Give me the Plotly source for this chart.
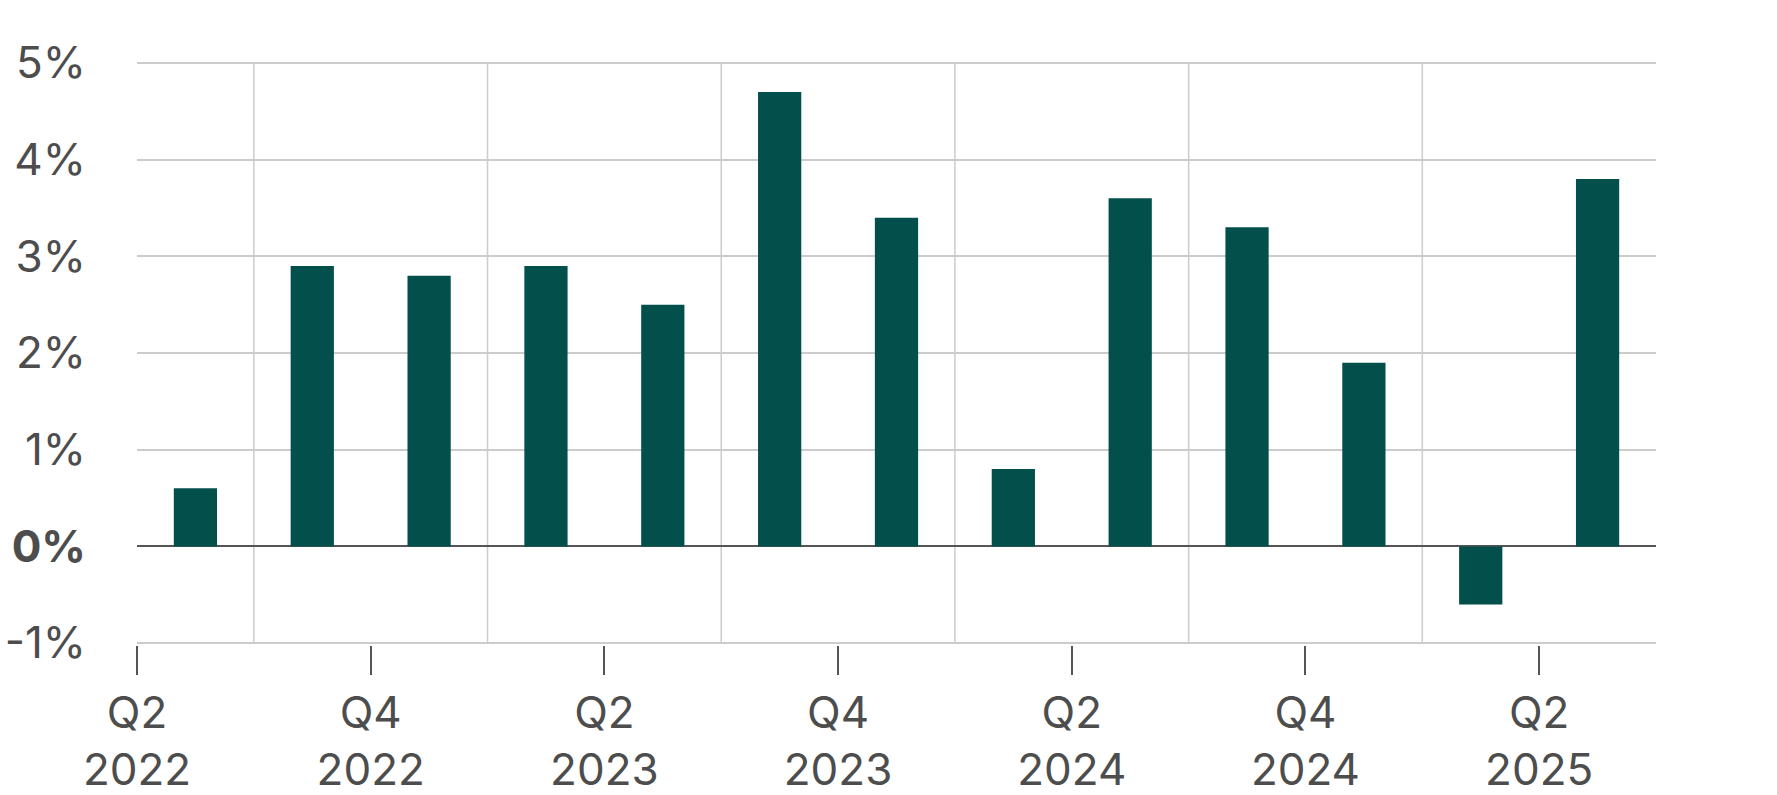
import plotly.graph_objects as go

quarters = ["Q2 2022", "Q3 2022", "Q4 2022", "Q1 2023", "Q2 2023", "Q3 2023", "Q4 2023",
            "Q1 2024", "Q2 2024", "Q3 2024", "Q4 2024", "Q1 2025", "Q2 2025"]
growth = [0.6, 2.9, 2.8, 2.9, 2.5, 4.7, 3.4, 0.8, 3.6, 3.3, 1.9, -0.6, 3.8]
y_ticks = [-1, 0, 1, 2, 3, 4, 5]
y_labels = ["-1%", "<b>0%</b>", "1%", "2%", "3%", "4%", "5%"]

idx = list(range(len(quarters)))
# labelled ticks at start of Q2 / Q4 quarters, gridlines at start of Q1 / Q3 quarters
tick_pos = [i - 0.5 for i, q in zip(idx, quarters) if q[:2] in ("Q2", "Q4")]
tick_txt = [q.replace(" ", "<br>") for q in quarters if q[:2] in ("Q2", "Q4")]
grid_pos = [i - 0.5 for i, q in zip(idx, quarters) if q[:2] in ("Q1", "Q3")]

font_color = "#4d4d4d"
FONT = "Inter"
fig = go.Figure(go.Bar(x=idx, y=growth, width=0.37, marker=dict(color="#034f4b", line=dict(width=0)),
                       showlegend=False))

for gx in grid_pos:
    fig.add_shape(type="line", xref="x", yref="y", x0=gx, x1=gx, y0=min(y_ticks), y1=max(y_ticks),
                  line=dict(color="#cccccc", width=1.5), layer="below")

fig.update_layout(
    width=1777, height=795,
    margin=dict(l=137, r=121, t=61, b=150),
    plot_bgcolor="white", paper_bgcolor="white",
    font=dict(family=FONT, size=44, color=font_color),
    xaxis=dict(
        range=[-0.5, 12.5], tickmode="array", tickvals=tick_pos, ticktext=tick_txt,
        showgrid=False, ticks="outside", ticklen=29, tickwidth=1.5, tickcolor="#555555",
        zeroline=False, showline=False, automargin=False,
        tickfont=dict(family=FONT, size=44, color=font_color),
    ),
    yaxis=dict(
        range=[-1.02, 5.02], tickmode="array", tickvals=y_ticks, ticktext=y_labels,
        showgrid=True, gridcolor="#cccccc", gridwidth=1.5,
        zeroline=True, zerolinecolor="#555555", zerolinewidth=1.5,
        ticks="", ticklabelstandoff=50, showline=False, automargin=False,
        tickfont=dict(family=FONT, size=44, color=font_color),
    ),
)

fig.write_html("out.html")
